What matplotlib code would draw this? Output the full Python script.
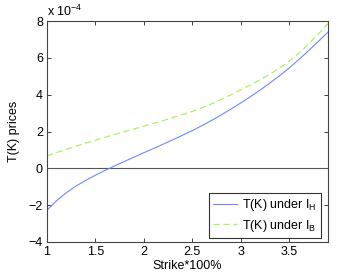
import matplotlib.pyplot as plt
import numpy as np

strike = [1.0, 1.1, 1.2, 1.3, 1.4, 1.5, 1.6, 1.7, 1.8, 1.9,
          2.0, 2.1, 2.2, 2.3, 2.4, 2.5, 2.6, 2.7, 2.8, 2.9,
          3.0, 3.1, 3.2, 3.3, 3.4, 3.5, 3.6, 3.7, 3.8, 3.9]
# values in units of 1e-4
t_heston = [-2.27, -1.75, -1.32, -0.96, -0.65, -0.37, -0.11, 0.14, 0.38, 0.615,
            0.85, 1.08, 1.315, 1.555, 1.80, 2.05, 2.32, 2.605, 2.905, 3.22,
            3.55, 3.89, 4.25, 4.63, 5.03, 5.45, 5.91, 6.39, 6.89, 7.40]
t_black = [0.68, 0.86, 1.035, 1.205, 1.37, 1.53, 1.685, 1.84, 1.99, 2.14,
           2.29, 2.44, 2.595, 2.755, 2.92, 3.09, 3.29, 3.51, 3.745, 3.995,
           4.265, 4.525, 4.805, 5.115, 5.455, 5.825, 6.265, 6.755, 7.285, 7.855]
xticks = [1, 1.5, 2, 2.5, 3, 3.5]
yticks = [-4, -2, 0, 2, 4, 6, 8]

plt.rcParams['font.size'] = 9
plt.rcParams['font.family'] = 'Liberation Sans'
plt.rcParams['mathtext.fontset'] = 'custom'
plt.rcParams['mathtext.rm'] = 'Liberation Sans'

fig = plt.figure(figsize=(3.62, 2.73), dpi=100)
ax = fig.add_axes([0.130, 0.1136, 0.776, 0.8094])

ax.axhline(0, color='#555555', lw=0.8)
ax.plot(strike, t_heston, color='#7088ff', lw=0.8, label=r'T(K) under I$_\mathrm{H}$')
ax.plot(strike, t_black, color='#a6f55a', lw=0.9, ls=(0, (5, 3)), label=r'T(K) under I$_\mathrm{B}$')

ax.set_xlim(1, 3.9)
ax.set_ylim(-4, 8)
ax.set_xticks(xticks)
ax.set_xticklabels(['1', '1.5', '2', '2.5', '3', '3.5'])
ax.set_yticks(yticks)
ax.set_yticklabels(['\u22124', '\u22122', '0', '2', '4', '6', '8'])
ax.tick_params(direction='in', top=True, right=True, length=3, width=0.6,
               colors='#222222', labelcolor='black', pad=3)
for s in ax.spines.values():
    s.set_color('#444444')
    s.set_linewidth(0.8)

ax.set_xlabel('Strike*100%', labelpad=1)
ax.set_ylabel('T(K) prices', labelpad=6)
ax.text(0.0, 1.01, r'x 10$^{-4}$', transform=ax.transAxes, ha='left', va='bottom')

leg = ax.legend(loc='lower right', bbox_to_anchor=(0.975, 0.018), fancybox=False,
                edgecolor='#333333', framealpha=1, handlelength=1.9,
                handletextpad=0.4, borderaxespad=0, borderpad=0.35,
                labelspacing=0.35, fontsize=9)
leg.get_frame().set_linewidth(0.8)

plt.savefig('out.png', dpi=100)
